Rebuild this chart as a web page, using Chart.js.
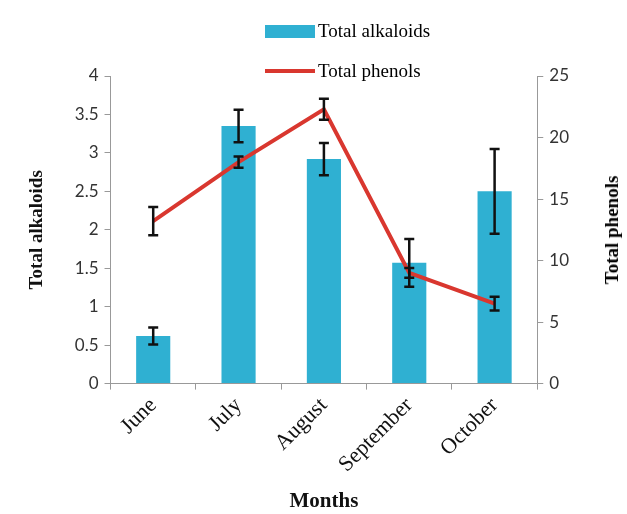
<!DOCTYPE html>
<html>
<head>
<meta charset="utf-8">
<script src="https://cdn.jsdelivr.net/npm/chart.js@4.4.0/dist/chart.umd.min.js"></script>
<style>
body{margin:0;background:#fff;}
#wrap{position:relative;width:627px;height:514px;}
#leyenda{position:absolute;left:265px;top:17px;font-family:"Liberation Serif",serif;font-size:19px;color:#000;}
.item{display:flex;align-items:center;height:28px;margin-bottom:12px;}
.caja{width:50px;height:13px;background:#2fb0d2;margin-right:3px;}
.linea{width:50px;height:4px;background:#d9372f;margin-right:3px;}
#tituloDer{position:absolute;left:612px;top:230px;transform:translate(-50%,-50%) rotate(-90deg);white-space:nowrap;font-family:"Liberation Serif",serif;font-weight:bold;font-size:19px;color:#000;}
</style>
</head>
<body>
<div id="wrap">
<canvas id="canvas" width="627" height="514"></canvas>
<div id="leyenda">
  <div class="item"><div class="caja"></div>Total alkaloids</div>
  <div class="item"><div class="linea"></div>Total phenols</div>
</div>
<div id="tituloDer">Total phenols</div>
</div>
<script>
//meses del eje x
const meses = ["June","July","August","September","October"];
//alcaloides (eje izquierdo) y su error
const alcaloides = [0.62,3.35,2.92,1.57,2.50];
const errAlcaloides = [0.11,0.21,0.21,0.31,0.55];
//fenoles (eje derecho) y su error
const fenoles = [13.2,18.0,22.3,9.0,6.5];
const errFenoles = [1.15,0.45,0.85,0.4,0.55];

//dibujo las barras de error encima de cada punto
const barrasError = {
    id:'barrasError',
    afterDatasetsDraw(chart){
        const ctx = chart.ctx;
        chart.data.datasets.forEach((ds,i)=>{
            const meta = chart.getDatasetMeta(i);
            const escala = chart.scales[ds.yAxisID];
            meta.data.forEach((p,j)=>{
                const arriba = escala.getPixelForValue(ds.data[j]+ds.errores[j]);
                const abajo = escala.getPixelForValue(ds.data[j]-ds.errores[j]);
                ctx.save();
                ctx.strokeStyle = '#111';
                ctx.lineWidth = 2.5;
                ctx.beginPath();
                ctx.moveTo(p.x,arriba); ctx.lineTo(p.x,abajo);
                ctx.moveTo(p.x-5,arriba); ctx.lineTo(p.x+5,arriba);
                ctx.moveTo(p.x-5,abajo); ctx.lineTo(p.x+5,abajo);
                ctx.stroke();
                ctx.restore();
            })
        })
    }
}

const fuenteNum = {family:'Lato', size:17};
const fuenteTit = {family:'Liberation Serif', size:19, weight:'bold'};
//sin decimales de mas (4 y no 4.0)
const sinCeros = (v)=> String(v);

var ctx = document.getElementById("canvas").getContext("2d");
var grafico = new Chart(ctx,{
    type:'bar',
    data:{
        labels:meses,
        datasets:[{
            type:'line',
            label:'Total phenols',
            data:fenoles,
            errores:errFenoles,
            yAxisID:'y1',
            borderColor:'#d9372f',
            borderWidth:4,
            pointRadius:0,
            tension:0,
            order:0
        },{
            type:'bar',
            label:'Total alkaloids',
            data:alcaloides,
            errores:errAlcaloides,
            yAxisID:'y',
            backgroundColor:'#2fb0d2',
            barPercentage:0.4,
            categoryPercentage:1,
            order:1
        }]
    },
    options:{
        responsive:false,
        animation:false,
        layout:{padding:{top:76,left:22,right:52,bottom:0}},
        plugins:{legend:{display:false},tooltip:{enabled:false}},
        scales:{
            x:{
                grid:{drawOnChartArea:false,offset:true,tickLength:6,color:'#999'},
                border:{color:'#999'},
                ticks:{minRotation:45,maxRotation:45,color:'#111',font:{family:'Liberation Serif',size:22}},
                title:{display:true,text:'Months',color:'#111',font:{family:'Liberation Serif',size:21,weight:'bold'},padding:{top:8,bottom:0}}
            },
            y:{
                position:'left',
                min:0,max:4,
                ticks:{stepSize:0.5,color:'#333',font:fuenteNum,padding:6,callback:sinCeros},
                grid:{drawOnChartArea:false,tickLength:6,color:'#999'},
                border:{color:'#999'},
                title:{display:true,text:'Total alkaloids',color:'#111',font:fuenteTit,padding:{bottom:20}}
            },
            y1:{
                position:'right',
                min:0,max:25,
                ticks:{stepSize:5,color:'#333',font:fuenteNum,padding:6,callback:sinCeros},
                grid:{drawOnChartArea:false,tickLength:6,color:'#999'},
                border:{color:'#999'}
            }
        }
    },
    plugins:[barrasError]
});
</script>
</body>
</html>
